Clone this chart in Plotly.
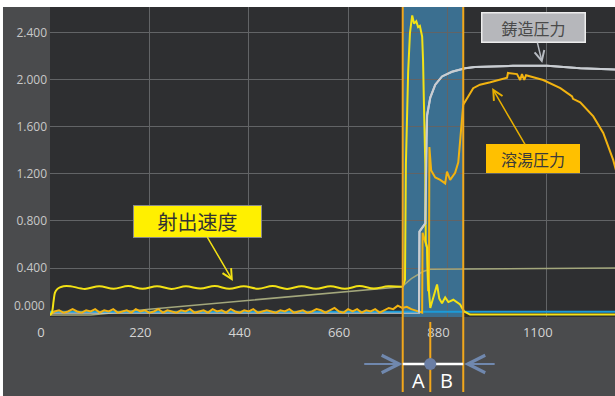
import plotly.graph_objects as go

# ---------------- data ----------------
x_ticks = [0, 220, 440, 660, 880, 1100]
x_ticktext = ["0", "220", "440", "660", "880", "1100"]
y_ticks = [0.4, 0.8, 1.2, 1.6, 2.0, 2.4]
y_ticktext = ["0.400", "0.800", "1.200", "1.600", "2.000", "2.400"]

# 射出速度 (injection speed) – wavy plateau part
speed_wave_x = [0, 4, 8, 11, 16, 22, 30, 45, 77, 109, 141, 173, 205, 237, 269, 301, 333, 365,
                397, 429, 461, 493, 525, 557, 589, 621, 653, 685, 717, 749, 781]
speed_wave_y = [0.0, 0.02, 0.12, 0.19, 0.22, 0.235, 0.245, 0.245, 0.222, 0.245, 0.224, 0.246,
                0.223, 0.245, 0.222, 0.244, 0.225, 0.246, 0.223, 0.245, 0.224, 0.246, 0.222,
                0.245, 0.224, 0.245, 0.223, 0.246, 0.225, 0.245, 0.24]
# 射出速度 – shot phase
speed_shot_x = [781, 786, 788, 793, 797, 802, 806, 811, 815, 819, 824, 826, 828, 831, 832, 835,
                837, 842, 857, 862, 868, 875, 882, 893, 908, 917, 930, 1251]
speed_shot_y = [0.24, 0.30, 1.28, 2.07, 2.40, 2.55, 2.48, 2.50, 2.45, 2.46, 2.37, 2.17, 1.79,
                1.28, 0.62, 0.57, 0.30, 0.06, 0.26, 0.14, 0.10, 0.15, 0.11, 0.13, 0.09, 0.03,
                0.004, 0.004]

# 溶湯圧力 (molten metal pressure) – noisy baseline, sampled every 10 units
melt_noise_y = [0.00, 0.03, 0.04, 0.02, 0.03, 0.05, 0.03, 0.02, 0.04, 0.03,
                0.05, 0.02, 0.04, 0.03, 0.05, 0.02, 0.03, 0.04, 0.02, 0.05,
                0.03, 0.04, 0.02, 0.03, 0.05, 0.02, 0.04, 0.03, 0.02, 0.04,
                0.03, 0.05, 0.02, 0.03, 0.04, 0.02, 0.05, 0.03, 0.04, 0.02,
                0.05, 0.03, 0.02, 0.04, 0.03, 0.05, 0.02, 0.03, 0.04, 0.03,
                0.02, 0.04, 0.03, 0.05, 0.02, 0.03, 0.04, 0.02, 0.03, 0.05,
                0.04, 0.02, 0.04, 0.06, 0.03, 0.02, 0.05, 0.03, 0.05, 0.02,
                0.04, 0.03, 0.05, 0.02, 0.04, 0.06, 0.05, 0.08, 0.06, 0.07,
                0.05, 0.04]
melt_noise_step = 10
# 溶湯圧力 – pressure build-up
melt_x = [815, 824, 825, 835, 837, 839, 840, 844, 853, 864, 875, 879, 886, 897, 904, 915, 926,
          937, 952, 975, 1012, 1014, 1034, 1041, 1045, 1050, 1054, 1092, 1130, 1156, 1158,
          1174, 1203, 1225, 1247, 1256]
melt_y = [0.03, 0.02, 0.70, 0.57, 0.21, 0.21, 1.43, 1.23, 1.17, 1.15, 1.12, 1.22, 1.15, 1.21,
          1.30, 1.79, 1.86, 1.93, 1.96, 1.98, 2.02, 2.06, 2.05, 2.00, 2.05, 2.00, 2.04, 2.00,
          1.93, 1.86, 1.84, 1.81, 1.69, 1.55, 1.32, 1.19]

# 鋳造圧力 (casting pressure)
cast_x = [0, 817, 818, 831, 833, 835, 842, 853, 868, 890, 919, 941, 1025, 1101, 1174, 1251]
cast_y = [0.02, 0.02, 0.71, 0.78, 1.51, 1.70, 1.85, 1.96, 2.03, 2.07, 2.10, 2.11, 2.12, 2.12,
          2.10, 2.09]

# plunger position-like olive trace
pos_x = [0, 90, 220, 400, 665, 779, 800, 826, 842, 1251]
pos_y = [0.0, 0.0, 0.05, 0.11, 0.20, 0.24, 0.31, 0.37, 0.39, 0.40]

# blue baseline trace
base_x = [0, 1251]
base_y = [0.028, 0.028]

# phase markers (A: 781-842, B: 842-915)
phase_a_start = 781
phase_split = 842
phase_b_end = 915

# ---------------- figure ----------------
fig = go.Figure()
fig.add_trace(go.Scatter(x=pos_x, y=pos_y, mode="lines",
                         line=dict(color="#a3a77c", width=1.5), hoverinfo="skip"))
fig.add_trace(go.Scatter(x=cast_x, y=cast_y, mode="lines",
                         line=dict(color="#c9cdd2", width=2), hoverinfo="skip"))
fig.add_trace(go.Scatter(x=base_x, y=base_y, mode="lines",
                         line=dict(color="#1c9bd8", width=2), hoverinfo="skip"))
melt_noise_x = [i * melt_noise_step for i in range(len(melt_noise_y))]
fig.add_trace(go.Scatter(x=melt_noise_x + melt_x, y=melt_noise_y + melt_y, mode="lines",
                         line=dict(color="#f2b310", width=2), hoverinfo="skip"))
fig.add_trace(go.Scatter(x=speed_wave_x, y=speed_wave_y, mode="lines",
                         line=dict(color="#f3e214", width=2, shape="spline"), hoverinfo="skip"))
fig.add_trace(go.Scatter(x=speed_shot_x, y=speed_shot_y, mode="lines",
                         line=dict(color="#f3e214", width=2), hoverinfo="skip"))
# casting pressure curve above others once it rises
fig.add_trace(go.Scatter(x=cast_x[1:], y=cast_y[1:], mode="lines",
                         line=dict(color="#c9cdd2", width=2), hoverinfo="skip"))

grid = "#626466"
fig.update_layout(
    width=615, height=396,
    margin=dict(l=50, r=0, t=7, b=79),
    paper_bgcolor="#4a4b4d",
    plot_bgcolor="#2e2f31",
    showlegend=False,
    hovermode=False,
    font=dict(family="Open Sans, Noto Sans, sans-serif"),
    xaxis=dict(range=[0, 1251], tickvals=x_ticks, ticktext=x_ticktext,
               showgrid=True, gridcolor=grid, gridwidth=1, zeroline=False, showline=False,
               ticks="", tickfont=dict(size=13, color="#d4d4d4"),
               ticklabelshift=-9, ticklabelstandoff=6),
    yaxis=dict(range=[-0.017, 2.621], tickvals=y_ticks, ticktext=y_ticktext,
               showgrid=True, gridcolor=grid, gridwidth=1, zeroline=False, showline=False,
               ticks="", tickfont=dict(size=12, color="#c8c8c8"), ticklabelstandoff=2),
)

shapes = []
# white frame strips
shapes.append(dict(type="rect", xref="paper", yref="paper", x0=-0.12, x1=1.02, y0=1.0, y1=1.06,
                   fillcolor="white", line=dict(width=0), layer="above"))
shapes.append(dict(type="rect", xref="paper", yref="paper", x0=-0.12, x1=-0.0832, y0=-0.3, y1=1.06,
                   fillcolor="white", line=dict(width=0), layer="above"))
# shaded shot window
shapes.append(dict(type="rect", xref="x", yref="paper", x0=phase_a_start, x1=phase_b_end, y0=0, y1=1,
                   fillcolor="#3b6f90", line=dict(width=0), layer="below"))
# orange boundary lines
for xv, y0, y1 in [(phase_a_start, -0.242, 1), (phase_b_end, -0.242, 1), (phase_split, -0.242, -0.016)]:
    shapes.append(dict(type="line", xref="x", yref="paper", x0=xv, x1=xv, y0=y0, y1=y1,
                       line=dict(color="#f2a71b", width=2), layer="above"))
# white span line and centre dot
shapes.append(dict(type="line", xref="x", yref="paper", x0=phase_a_start, x1=phase_b_end,
                   y0=-0.1516, y1=-0.1516, line=dict(color="white", width=2.5)))
shapes.append(dict(type="circle", xref="x", yref="paper", xsizemode="pixel", ysizemode="pixel",
                   xanchor=phase_split, yanchor=-0.1516, x0=-6, x1=6, y0=-6, y1=6,
                   fillcolor="#6a7ea5", line=dict(width=0)))
fig.update_layout(shapes=shapes)

ann = []
ann.append(dict(xref="paper", yref="y", x=0, y=0.077, xanchor="right", xshift=-3,
                text="0.000", showarrow=False, font=dict(size=12, color="#c8c8c8")))
# outer arrows
ann.append(dict(xref="x", yref="paper", x=phase_a_start, y=-0.1516, ax=-40, ay=0, text="",
                showarrow=True, arrowhead=5, arrowsize=1.7, arrowwidth=2, arrowcolor="#7088ae"))
ann.append(dict(xref="x", yref="paper", x=phase_b_end + 2, y=-0.1516, ax=32, ay=0, text="",
                showarrow=True, arrowhead=5, arrowsize=1.7, arrowwidth=2, arrowcolor="#7088ae"))
ann.append(dict(xref="x", yref="paper", x=815, y=-0.206, xanchor="center", yanchor="middle",
                text="A", showarrow=False, font=dict(size=20, color="white")))
ann.append(dict(xref="x", yref="paper", x=879, y=-0.206, xanchor="center", yanchor="middle",
                text="B", showarrow=False, font=dict(size=20, color="white")))
cjk = "Noto Sans CJK JP"
ann.append(dict(x=405, y=0.289, ax=-35, ay=-60, text="射出速度", showarrow=True,
                arrowhead=5, arrowsize=1.3, arrowwidth=1.5, arrowcolor="#f3e214",
                font=dict(family=cjk, size=20, color="#333333"), bgcolor="#fff000",
                bordercolor="#8a8a8a", borderwidth=1, width=125, height=29))
ann.append(dict(x=1090, y=2.145, ax=-8.5, ay=-35, text="鋳造圧力", showarrow=True,
                arrowhead=5, arrowsize=1.3, arrowwidth=1.5, arrowcolor="#b8bcc2",
                font=dict(family=cjk, size=16, color="#4a4a4a"), bgcolor="#b6b7bb",
                bordercolor="#ececec", borderwidth=1.5, width=100, height=26))
ann.append(dict(x=979, y=1.932, ax=41, ay=70.5, text="溶湯圧力", showarrow=True,
                arrowhead=5, arrowsize=1.3, arrowwidth=1.5, arrowcolor="#e8b000",
                font=dict(family=cjk, size=16, color="#3a3a3a"), bgcolor="#ffc000",
                bordercolor="#ffc000", borderwidth=1, width=90, height=25))
fig.update_layout(annotations=ann)

fig.write_html("out.html", config={"displayModeBar": False},
               post_script="document.body.style.margin='0px';document.body.style.overflow='hidden';")
